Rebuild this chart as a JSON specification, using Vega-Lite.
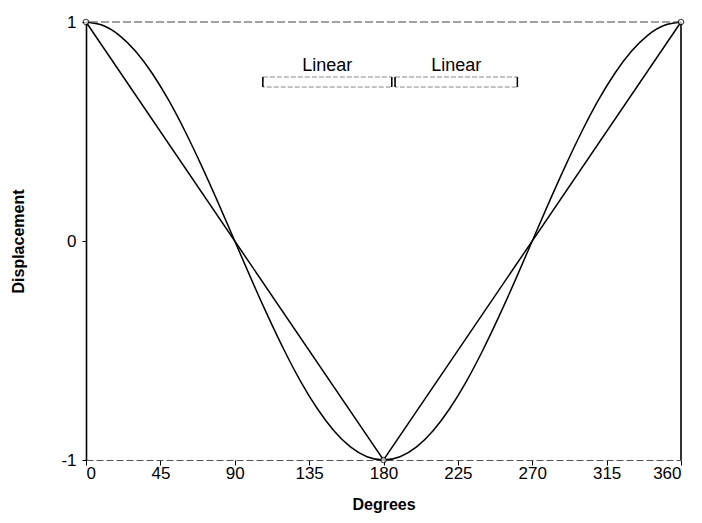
{
  "$schema": "https://vega.github.io/schema/vega-lite/v6.json",
  "width": 595,
  "height": 438,
  "autosize": {"type": "none"},
  "padding": {"left": 86, "top": 22, "right": 21, "bottom": 63},
  "background": "white",
  "config": {
    "view": {"stroke": null},
    "font": "Liberation Sans",
    "axis": {"grid": false, "labelColor": "black", "titleColor": "black", "tickColor": "black"}
  },
  "datasets": {
    "linear": [
      {"deg": 0, "v": 1},
      {"deg": 180, "v": -1},
      {"deg": 360, "v": 1}
    ],
    "cos": [
      {"deg": 0, "v": 1},
      {"deg": 10, "v": 0.985},
      {"deg": 20, "v": 0.94},
      {"deg": 30, "v": 0.866},
      {"deg": 40, "v": 0.766},
      {"deg": 50, "v": 0.643},
      {"deg": 60, "v": 0.5},
      {"deg": 70, "v": 0.342},
      {"deg": 80, "v": 0.174},
      {"deg": 90, "v": 0},
      {"deg": 100, "v": -0.174},
      {"deg": 110, "v": -0.342},
      {"deg": 120, "v": -0.5},
      {"deg": 130, "v": -0.643},
      {"deg": 140, "v": -0.766},
      {"deg": 150, "v": -0.866},
      {"deg": 160, "v": -0.94},
      {"deg": 170, "v": -0.985},
      {"deg": 180, "v": -1},
      {"deg": 190, "v": -0.985},
      {"deg": 200, "v": -0.94},
      {"deg": 210, "v": -0.866},
      {"deg": 220, "v": -0.766},
      {"deg": 230, "v": -0.643},
      {"deg": 240, "v": -0.5},
      {"deg": 250, "v": -0.342},
      {"deg": 260, "v": -0.174},
      {"deg": 270, "v": 0},
      {"deg": 280, "v": 0.174},
      {"deg": 290, "v": 0.342},
      {"deg": 300, "v": 0.5},
      {"deg": 310, "v": 0.643},
      {"deg": 320, "v": 0.766},
      {"deg": 330, "v": 0.866},
      {"deg": 340, "v": 0.94},
      {"deg": 350, "v": 0.985},
      {"deg": 360, "v": 1}
    ],
    "brackets": [
      {"x1": 107, "x2": 185, "y1": 0.703, "y2": 0.749, "label": "Linear", "lx": 146},
      {"x1": 187, "x2": 261, "y1": 0.703, "y2": 0.749, "label": "Linear", "lx": 224}
    ],
    "ends": [
      {"x": 107, "y1": 0.703, "y2": 0.749},
      {"x": 185, "y1": 0.703, "y2": 0.749},
      {"x": 187, "y1": 0.703, "y2": 0.749},
      {"x": 261, "y1": 0.703, "y2": 0.749}
    ]
  },
  "layer": [
    {
      "data": {"name": "linear"},
      "mark": {"type": "line", "color": "black", "strokeWidth": 1.5},
      "encoding": {
        "x": {
          "field": "deg", "type": "quantitative",
          "scale": {"domain": [0, 360], "nice": false},
          "axis": {
            "values": [0, 45, 90, 135, 180, 225, 270, 315, 360],
            "title": "Degrees",
            "titleFont": "Liberation Sans",
            "titleFontSize": 16,
            "titleFontWeight": "bold",
            "titlePadding": 15,
            "labelFont": "Liberation Sans",
            "labelFontSize": 17,
            "labelPadding": 0,
            "tickSize": 5,
            "domainColor": "#555",
            "domainDash": [7, 3],
            "domainWidth": 1
          }
        },
        "y": {
          "field": "v", "type": "quantitative",
          "scale": {"domain": [-1, 1], "nice": false},
          "axis": {
            "values": [-1, 0, 1],
            "labelExpr": "datum.value > 0.5 ? '1' : (datum.value < -0.5 ? '-1' : '0')",
            "labelOverlap": false,
            "title": "Displacement",
            "titleFont": "Liberation Sans",
            "titleFontSize": 16,
            "titleFontWeight": "bold",
            "titleX": -60,
            "labelFont": "Liberation Sans",
            "labelFontSize": 17,
            "labelPadding": 6,
            "tickSize": 4,
            "domainColor": "black",
            "domainWidth": 1.6
          }
        }
      }
    },
    {
      "data": {"name": "cos"},
      "mark": {"type": "line", "color": "black", "strokeWidth": 1.5, "interpolate": "natural"},
      "encoding": {
        "x": {"field": "deg", "type": "quantitative"},
        "y": {"field": "v", "type": "quantitative"}
      }
    },
    {
      "data": {"values": [{"v": 1}]},
      "mark": {"type": "rule", "color": "#444", "strokeDash": [8, 3], "strokeWidth": 1},
      "encoding": {"y": {"field": "v", "type": "quantitative"}}
    },
    {
      "data": {"values": [{"deg": 360}]},
      "mark": {"type": "rule", "color": "black", "strokeWidth": 1.6},
      "encoding": {"x": {"field": "deg", "type": "quantitative"}}
    },
    {
      "data": {"name": "linear"},
      "mark": {"type": "point", "shape": "circle", "size": 30, "stroke": "black", "strokeWidth": 1.2, "fill": "white", "filled": true},
      "encoding": {
        "x": {"field": "deg", "type": "quantitative"},
        "y": {"field": "v", "type": "quantitative"}
      }
    },
    {
      "data": {"name": "brackets"},
      "mark": {"type": "rect", "fill": null, "stroke": "#888", "strokeWidth": 1, "strokeDash": [5, 2]},
      "encoding": {
        "x": {"field": "x1", "type": "quantitative"},
        "x2": {"field": "x2"},
        "y": {"field": "y1", "type": "quantitative"},
        "y2": {"field": "y2"}
      }
    },
    {
      "data": {"name": "ends"},
      "mark": {"type": "rule", "color": "black", "strokeWidth": 1.5},
      "encoding": {
        "x": {"field": "x", "type": "quantitative"},
        "y": {"field": "y1", "type": "quantitative"},
        "y2": {"field": "y2"}
      }
    },
    {
      "data": {"name": "brackets"},
      "mark": {"type": "text", "font": "Liberation Sans", "fontSize": 18, "baseline": "alphabetic", "align": "center", "color": "black"},
      "encoding": {
        "x": {"field": "lx", "type": "quantitative"},
        "y": {"datum": 0.776, "type": "quantitative"},
        "text": {"field": "label"}
      }
    }
  ]
}
